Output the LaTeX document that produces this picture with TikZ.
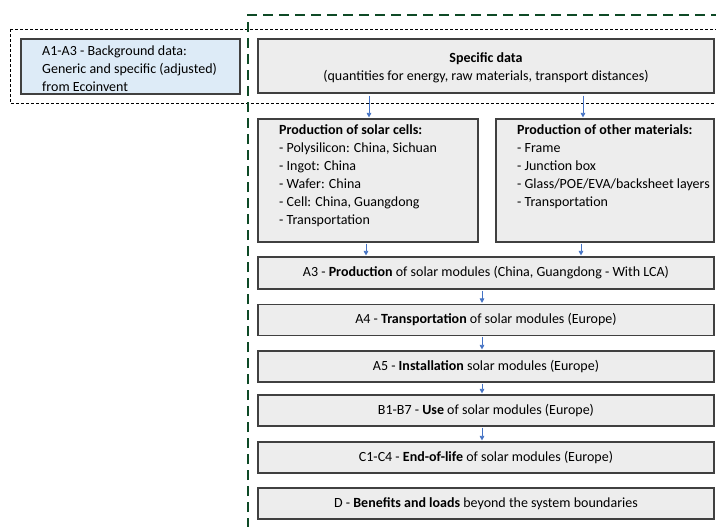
\documentclass[tikz,border=0pt]{standalone}
\usepackage{fontspec}
\setmainfont{Carlito}
\usetikzlibrary{arrows.meta}
\definecolor{boxgray}{HTML}{EDEDED}
\definecolor{boxline}{HTML}{404040}
\definecolor{bluefill}{HTML}{DDEBF7}
\definecolor{arrowblue}{HTML}{4472C4}
\definecolor{bgreen}{HTML}{0E4A26}
\newcommand{\reffont}{\fontsize{14}{18}\selectfont}
\tikzset{
  gbox/.style={draw=boxline, line width=1.1pt, fill=boxgray, inner sep=0pt},
  bar/.style={gbox, minimum width=456pt, minimum height=31pt, font=\reffont},
  txt/.style={inner sep=0pt, align=left, font=\reffont},
  flow/.style={draw=arrowblue, line width=0.7pt, -{Triangle[width=4.5pt,length=4.5pt]}},
}
\begin{document}
\begin{tikzpicture}[x=1pt,y=-1pt]
\useasboundingbox (0,0) rectangle (716,527);
\fill[white] (0,0) rectangle (716,527);
% dotted band
\draw[black, line width=0.7pt, dash pattern=on 3pt off 2pt] (10,29) rectangle (740,103);
% boxes
\node[draw=boxline, line width=1.1pt, fill=bluefill, minimum width=219pt, minimum height=55pt] (bg) at (130.5,66.5) {};
\node[txt, anchor=west] (bgt) at (42,69) {A1-A3 - Background data:\\Generic and specific (adjusted)\\from Ecoinvent};
\node[gbox, minimum width=456pt, minimum height=54pt] (sd) at (486,66) {};
\node[txt, align=center] (sdt) at (486,68) {\textbf{Specific data}\\(quantities for energy, raw materials, transport distances)};
\node[gbox, minimum width=220pt, minimum height=123pt] (cells) at (368,180.5) {};
\node[txt, anchor=west] (cellst) at (279,175.5) {\textbf{Production of solar cells:}\\- Polysilicon: China, Sichuan\\- Ingot: China\\- Wafer: China\\- Cell: China, Guangdong\\- Transportation};
\node[gbox, minimum width=218pt, minimum height=123pt] (other) at (605,180.5) {};
\node[txt, anchor=west] (othert) at (517,166.5) {\textbf{Production of other materials:}\\- Frame\\- Junction box\\- Glass/POE/EVA/backsheet layers\\- Transportation};
\node[bar, minimum height=32pt] (a3) at (486,273) {A3 - \textbf{Production} of solar modules (China, Guangdong - With LCA)};
\node[bar] (a4) at (486,320) {A4 - \textbf{Transportation} of solar modules (Europe)};
\node[bar] (a5) at (486,366.5) {A5 - \textbf{Installation} solar modules (Europe)};
\node[bar] (b) at (486,410.5) {B1-B7 - \textbf{Use} of solar modules (Europe)};
\node[bar] (c) at (486,457.5) {C1-C4 - \textbf{End-of-life} of solar modules (Europe)};
\node[bar] (d) at (486,503.5) {D - \textbf{Benefits and loads} beyond the system boundaries};
% arrows
\draw[flow, shorten <=2pt, shorten >=1pt] (sd.south -| 369,0) -- (cells.north -| 369,0);
\draw[flow, shorten <=2pt, shorten >=1pt] (sd.south -| 583,0) -- (other.north -| 583,0);
\draw[flow, shorten <=1pt, shorten >=1pt] (cells.south -| 366,0) -- (a3.north -| 366,0);
\draw[flow, shorten <=1pt, shorten >=1pt] (other.south -| 581,0) -- (a3.north -| 581,0);
\draw[flow, shorten <=1pt, shorten >=1pt] (a3.south -| 482,0) -- (a4.north -| 482,0);
\draw[flow, shorten <=1pt, shorten >=1pt] (a4.south -| 482,0) -- (a5.north -| 482,0);
\draw[flow, shorten <=1pt, shorten >=1pt] (a5.south -| 482,0) -- (b.north -| 482,0);
\draw[flow, shorten <=1pt, shorten >=1pt] (b.south -| 482,0) -- (c.north -| 482,0);
% green boundary
\draw[bgreen, line width=2.8pt, dash pattern=on 10pt off 6pt] (248,560) -- (248,15) -- (760,15);
\end{tikzpicture}
\end{document}
